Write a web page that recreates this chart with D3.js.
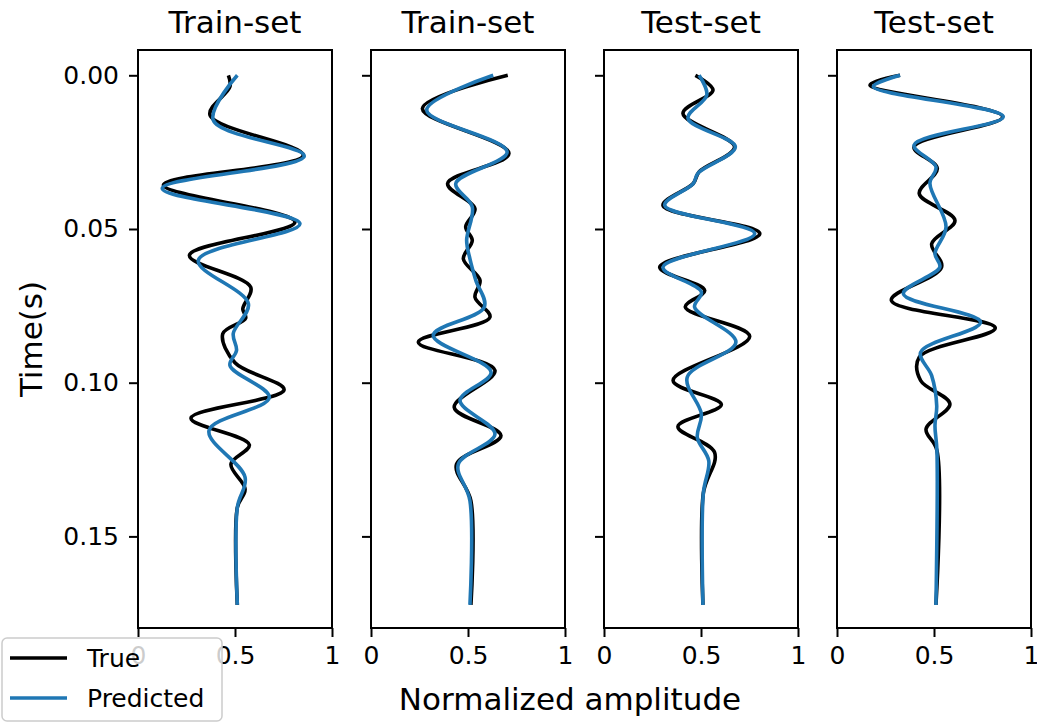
<!DOCTYPE html>
<html>
<head>
<meta charset="utf-8">
<script src="https://cdn.jsdelivr.net/npm/d3@7"></script>
<style>
  html, body { margin: 0; padding: 0; background: #fff; }
  svg { display: block; font-family: "DejaVu Sans", sans-serif; }
</style>
</head>
<body>
<svg id="chart" width="1037" height="723"></svg>
<script>
// Trace samples: [time (s), normalized amplitude]
const trueTrain1 = [[0,0.466],[0.0037,0.474],[0.0129,0.371],[0.026,0.852],[0.0357,0.131],[0.0477,0.809],[0.0586,0.265],[0.0689,0.581],[0.076,0.54],[0.079,0.555],[0.0841,0.437],[0.0935,0.50],[0.1023,0.753],[0.1115,0.273],[0.1202,0.574],[0.1265,0.479],[0.1346,0.552],[0.1406,0.512],[0.1723,0.512]];
const predTrain1 = [[0,0.512],[0.0146,0.388],[0.0263,0.857],[0.0368,0.125],[0.0483,0.835],[0.0602,0.311],[0.0743,0.569],[0.084,0.491],[0.0895,0.508],[0.0944,0.474],[0.1048,0.677],[0.1156,0.366],[0.1308,0.552],[0.1406,0.512],[0.1723,0.512]];

const trueTrain2 = [[0,0.705],[0.0108,0.265],[0.0254,0.711],[0.0352,0.395],[0.0434,0.536],[0.0493,0.488],[0.0537,0.522],[0.0597,0.476],[0.0667,0.562],[0.0722,0.536],[0.0787,0.613],[0.0868,0.244],[0.096,0.639],[0.108,0.429],[0.1172,0.670],[0.1265,0.441],[0.1384,0.515],[0.1723,0.515]];
const predTrain2 = [[0,0.630],[0.0113,0.287],[0.0249,0.702],[0.0352,0.437],[0.0428,0.522],[0.0537,0.493],[0.0597,0.510],[0.0667,0.540],[0.0754,0.584],[0.0846,0.321],[0.0966,0.619],[0.1058,0.459],[0.1167,0.639],[0.1265,0.450],[0.1384,0.510],[0.1723,0.510]];

const trueTest1 = [[0,0.471],[0.0048,0.562],[0.0124,0.407],[0.0233,0.673],[0.0314,0.49],[0.0352,0.46],[0.0423,0.304],[0.0515,0.803],[0.0624,0.287],[0.070,0.519],[0.0754,0.419],[0.0849,0.751],[0.0993,0.356],[0.1071,0.605],[0.1143,0.381],[0.1227,0.570],[0.136,0.512],[0.1723,0.510]];
const predTest1 = [[0,0.490],[0.0064,0.530],[0.014,0.433],[0.0233,0.677],[0.0318,0.485],[0.0352,0.46],[0.0423,0.313],[0.0515,0.777],[0.0624,0.304],[0.0705,0.502],[0.0754,0.467],[0.0868,0.680],[0.0982,0.429],[0.1102,0.502],[0.1178,0.481],[0.1254,0.540],[0.136,0.512],[0.1723,0.510]];

const trueTest2 = [[0,0.325],[0.0032,0.170],[0.0135,0.854],[0.0233,0.397],[0.0303,0.517],[0.0385,0.424],[0.0472,0.608],[0.0548,0.488],[0.0624,0.539],[0.0732,0.280],[0.0822,0.816],[0.0917,0.424],[0.0993,0.431],[0.1069,0.582],[0.1151,0.459],[0.122,0.515],[0.1723,0.510]];
const predTest2 = [[0,0.325],[0.0037,0.187],[0.0135,0.857],[0.0227,0.397],[0.0298,0.510],[0.0352,0.479],[0.0493,0.562],[0.058,0.505],[0.0624,0.53],[0.0711,0.342],[0.0803,0.740],[0.0901,0.431],[0.0977,0.488],[0.1075,0.514],[0.114,0.505],[0.122,0.515],[0.1723,0.510]];

const panelTitles = ["Train-set", "Train-set", "Test-set", "Test-set"];
const trueSeries = [trueTrain1, trueTrain2, trueTest1, trueTest2];
const predSeries = [predTrain1, predTrain2, predTest1, predTest2];
const timeTicks = [0, 0.05, 0.10, 0.15];
const ampTicks = [0, 0.5, 1];
const ampTickLabels = ["0", "0.5", "1"];
const legendLabels = ["True", "Predicted"];
const seriesColors = ["#000000", "#1f77b4"];

const svg = d3.select("#chart");
const panelLeft = [138, 371, 604, 837];
const panelW = 194;
const plotTop = 50, plotBottom = 628;

const y = d3.scaleLinear().domain([-0.00823, 0.1798]).range([plotTop, plotBottom]);

panelLeft.forEach((left, i) => {
  const x = d3.scaleLinear().domain([0, 1]).range([left, left + panelW]);
  const g = svg.append("g");

  const line = d3.line()
    .x(d => x(d[1]))
    .y(d => y(d[0]))
    .curve(d3.curveCatmullRom.alpha(0.5));

  [trueSeries[i], predSeries[i]].forEach((s, k) => {
    g.append("path")
      .datum(s)
      .attr("d", line)
      .attr("fill", "none")
      .attr("stroke", seriesColors[k])
      .attr("stroke-width", 3.6)
      .attr("stroke-linejoin", "round")
      .attr("stroke-linecap", "butt");
  });

  // frame
  g.append("rect")
    .attr("x", left).attr("y", plotTop)
    .attr("width", panelW).attr("height", plotBottom - plotTop)
    .attr("fill", "none").attr("stroke", "#000").attr("stroke-width", 2);

  // left axis
  const yAxis = d3.axisLeft(y).tickValues(timeTicks).tickSize(9).tickPadding(10)
    .tickFormat(i === 0 ? d3.format(".2f") : () => "");
  const ya = g.append("g").attr("transform", `translate(${left},0)`).call(yAxis);
  ya.select(".domain").remove();
  ya.selectAll(".tick line").attr("stroke", "#000").attr("stroke-width", 2);
  ya.selectAll(".tick text").attr("font-size", 25).attr("fill", "#000")
    .attr("font-family", "DejaVu Sans");

  // bottom axis
  const xAxis = d3.axisBottom(x).tickValues(ampTicks).tickSize(9).tickPadding(9)
    .tickFormat((d, j) => ampTickLabels[j]);
  const xa = g.append("g").attr("transform", `translate(0,${plotBottom})`).call(xAxis);
  xa.select(".domain").remove();
  xa.selectAll(".tick line").attr("stroke", "#000").attr("stroke-width", 2);
  xa.selectAll(".tick text").attr("font-size", 25).attr("fill", "#000")
    .attr("font-family", "DejaVu Sans");

  // title
  g.append("text")
    .attr("x", left + panelW / 2).attr("y", 33)
    .attr("text-anchor", "middle")
    .attr("font-size", 31)
    .attr("fill", "#000")
    .text(panelTitles[i]);
});

// axis labels
svg.append("text")
  .attr("transform", `translate(42,${(plotTop + plotBottom) / 2}) rotate(-90)`)
  .attr("text-anchor", "middle")
  .attr("font-size", 31)
  .attr("fill", "#000")
  .text("Time(s)");

svg.append("text")
  .attr("x", 570)
  .attr("y", 710)
  .attr("text-anchor", "middle")
  .attr("font-size", 31)
  .attr("fill", "#000")
  .text("Normalized amplitude");

// legend
const lg = svg.append("g");
lg.append("rect")
  .attr("x", 2).attr("y", 638).attr("width", 220).attr("height", 83)
  .attr("rx", 5).attr("ry", 5)
  .attr("fill", "#fff").attr("fill-opacity", 0.8)
  .attr("stroke", "#cccccc").attr("stroke-width", 1.5);
legendLabels.forEach((lab, k) => {
  const cy = 658 + k * 40;
  lg.append("line")
    .attr("x1", 10).attr("x2", 67).attr("y1", cy).attr("y2", cy)
    .attr("stroke", seriesColors[k]).attr("stroke-width", 3.6);
  lg.append("text")
    .attr("x", 87).attr("y", cy + 9)
    .attr("font-size", 25)
    .attr("fill", "#000")
    .text(lab);
});
</script>
</body>
</html>
